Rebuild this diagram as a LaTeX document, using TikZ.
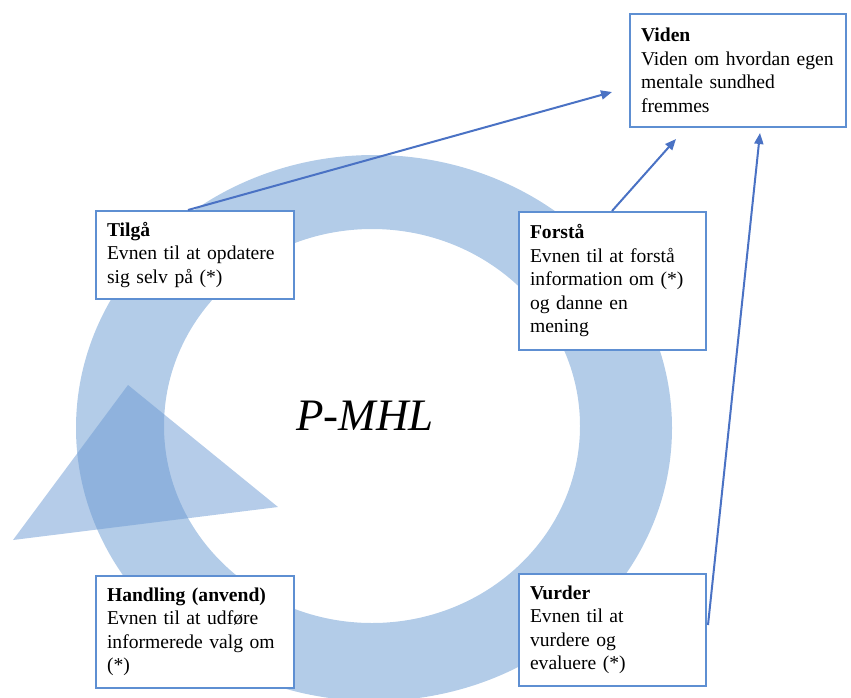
\documentclass[tikz,border=0pt]{standalone}
\usepackage{fontspec}
\setmainfont{Liberation Serif}
\usetikzlibrary{arrows.meta}
\definecolor{ringblue}{HTML}{B3CCE8}
\definecolor{triblue}{HTML}{6C9AD3}
\definecolor{boxblue}{HTML}{5E8FD2}
\definecolor{arrowblue}{HTML}{4A72C4}
\tikzset{
  infobox/.style={draw=boxblue, line width=2pt, fill=white, anchor=north west,
    align=left, inner xsep=11pt, inner ysep=0pt,
    font=\fontsize{19.6}{23.5}\selectfont},
  link/.style={draw=arrowblue, line width=2pt, -{Triangle[length=11pt,width=9pt]}}
}
\begin{document}
\begin{tikzpicture}[x=1pt,y=-1pt]
\useasboundingbox (0,0) rectangle (851,697);
\clip (0,0) rectangle (851,697);
% ring
\fill[ringblue, even odd rule] (374,428) ellipse [x radius=298pt, y radius=273pt]
  (372,426) ellipse [x radius=208pt, y radius=197pt];
% triangle
\fill[triblue, opacity=0.5] (128,385) -- (278,507) -- (13,540) -- cycle;
% centre label
\node (pmhl) at (365,416) {\fontsize{45}{50}\selectfont\itshape P-MHL};
% boxes
\node[infobox, minimum width=216pt, minimum height=113pt, text width=194pt] (viden) at (629,13)
  {\textbf{Viden}\\Viden om hvordan egen\\mentale sundhed\\fremmes};
\node[infobox, minimum width=198pt, minimum height=88pt, text width=176pt] (tilga) at (95,210)
  {\textbf{Tilgå}\\Evnen til at opdatere\\sig selv på (*)};
\node[infobox, minimum width=187pt, minimum height=138pt, text width=165pt] (forsta) at (518,211)
  {\textbf{Forstå}\\Evnen til at forstå\\information om (*)\\og danne en\\mening};
\node[infobox, minimum width=198pt, minimum height=112pt, text width=176pt] (handling) at (95,575)
  {\textbf{Handling (anvend)}\\Evnen til at udføre\\informerede valg om\\(*)};
\node[infobox, minimum width=187pt, minimum height=112pt, text width=165pt] (vurder) at (518,573)
  {\textbf{Vurder}\\Evnen til at\\vurdere og\\evaluere (*)};
% arrow end points
\coordinate (e1) at (612,92);
\coordinate (e2) at (676,139);
\coordinate (e3) at (760,133);
\draw[link] (tilga.north west) ++(93,0) coordinate (s1) (s1) -- (e1);
\draw[link] (forsta.north west) ++(94,0) coordinate (s2) (s2) -- (e2);
\draw[link] (vurder.north east) ++(1,52) coordinate (s3) (s3) -- (e3);
\end{tikzpicture}
\end{document}
